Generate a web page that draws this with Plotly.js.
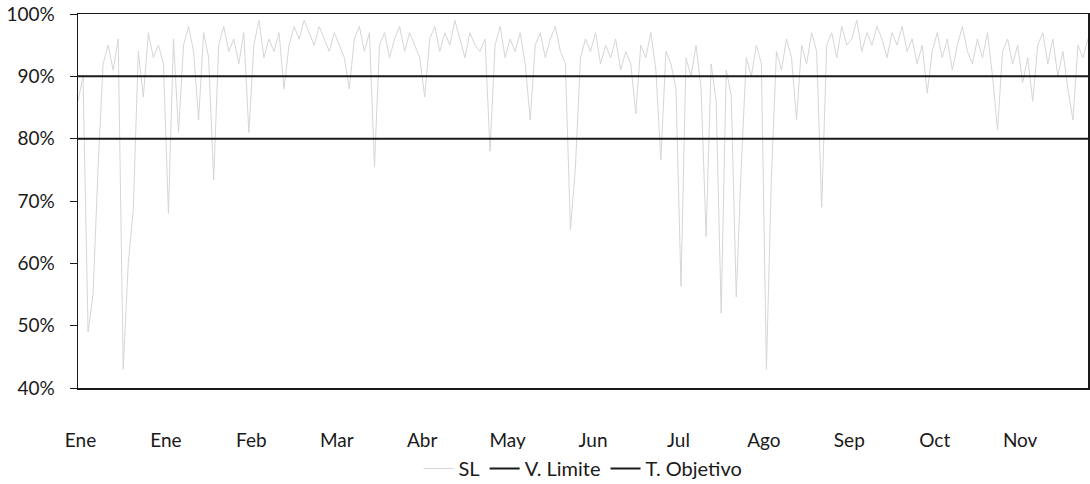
<!DOCTYPE html>
<html>
<head>
<meta charset="utf-8">
<script src="https://cdn.plot.ly/plotly-3.0.1.min.js"></script>
<style>html,body{margin:0;padding:0;background:#fff;}#chart{width:1090px;height:484px;}</style>
</head>
<body>
<div id="chart"></div>
<script>
const slValues = [
  86, 90, 49, 55, 75.5, 92, 95, 91, 96, 43,
  60, 68.6, 94, 86.7, 97, 93, 95, 92, 68, 96,
  81, 95, 98, 94, 83, 97, 93, 73.4, 95, 98,
  94, 96, 92, 97, 81, 95, 99, 93, 96, 94,
  97, 88, 95, 98, 96, 99, 97, 95, 98, 96,
  94, 97, 95, 93, 88, 96, 98, 94, 97, 75.5,
  95, 97, 93, 96, 98, 94, 97, 95, 93, 86.7,
  96, 98, 94, 97, 95, 99, 96, 93, 97, 95,
  94, 96, 78, 95, 98, 93, 96, 94, 97, 92,
  83, 95, 97, 93, 96, 98, 94, 92, 65.4, 75.5,
  93, 96, 94, 97, 92, 95, 93, 96, 91, 94,
  92, 84, 95, 93, 97, 91, 76.6, 94, 92, 88,
  56.3, 93, 90, 95, 88, 64.3, 92, 86, 52, 91,
  87, 54.6, 75.5, 93, 90, 95, 92, 43, 74, 94,
  91, 96, 93, 83, 95, 92, 97, 94, 69, 95,
  97, 93, 98, 95, 96, 99, 94, 97, 95, 98,
  96, 93, 97, 95, 98, 94, 96, 92, 95, 87.3,
  94, 97, 93, 96, 91, 95, 98, 94, 92, 96,
  93, 97, 90, 81.4, 94, 96, 92, 95, 89, 93,
  86, 95, 97, 92, 96, 90, 94, 88, 83, 95,
  93, 96
];
const limiteValue = 80;   // V. Limite
const objetivoValue = 90; // T. Objetivo
const monthLabels = ['Ene','Ene','Feb','Mar','Abr','May','Jun','Jul','Ago','Sep','Oct','Nov'];
const monthPositions = [0.5, 17.5, 34.5, 51.5, 68.5, 85.5, 102.5, 119.5, 136.5, 153.5, 170.5, 187.5];
const yTicks = [40, 50, 60, 70, 80, 90, 100];

const xIdx = slValues.map((_, i) => i);
const limite = xIdx.map(() => limiteValue);
const objetivo = xIdx.map(() => objetivoValue);

const family = 'Lato, "Open Sans", sans-serif';
const axisFont = {family: family, size: 19, color: '#1a1a1a'};
const legendFont = {family: family, size: 20, color: '#1a1a1a'};

const traces = [
  {x: xIdx, y: slValues, type: 'scatter', mode: 'lines', name: 'SL',
   line: {color: 'rgb(214,214,214)', width: 1}},
  {x: xIdx, y: limite, type: 'scatter', mode: 'lines', name: 'V. Limite',
   line: {color: '#1a1a1a', width: 2}},
  {x: xIdx, y: objetivo, type: 'scatter', mode: 'lines', name: 'T. Objetivo',
   line: {color: '#1a1a1a', width: 2}}
];

const layout = {
  width: 1090, height: 484,
  margin: {l: 78, r: 2, t: 14, b: 96, autoexpand: false},
  paper_bgcolor: '#fff', plot_bgcolor: '#fff',
  font: axisFont,
  showlegend: true,
  legend: {orientation: 'h', x: 0.5, xanchor: 'center', y: -0.163, yanchor: 'top',
           font: legendFont, itemwidth: 30, tracegroupgap: 0},
  xaxis: {
    range: [0, slValues.length - 1],
    tickmode: 'array', tickvals: monthPositions, ticktext: monthLabels,
    ticks: 'outside', ticklen: 35, tickcolor: 'rgba(0,0,0,0)',
    showgrid: false, zeroline: false, automargin: false,
    showline: true, linecolor: '#1a1a1a', linewidth: 1.5, mirror: true,
    tickfont: axisFont, fixedrange: true
  },
  yaxis: {
    range: [40, 100],
    tickmode: 'array', tickvals: yTicks, ticktext: yTicks.map(v => v + '%'),
    ticks: 'outside', ticklen: 7, tickcolor: '#1a1a1a', tickwidth: 1,
    ticklabelstandoff: 11, automargin: false,
    showgrid: false, zeroline: false,
    showline: true, linecolor: '#1a1a1a', linewidth: 1.5, mirror: true,
    tickfont: axisFont, fixedrange: true
  }
};

Plotly.newPlot('chart', traces, layout, {displayModeBar: false, staticPlot: true});
</script>
</body>
</html>
